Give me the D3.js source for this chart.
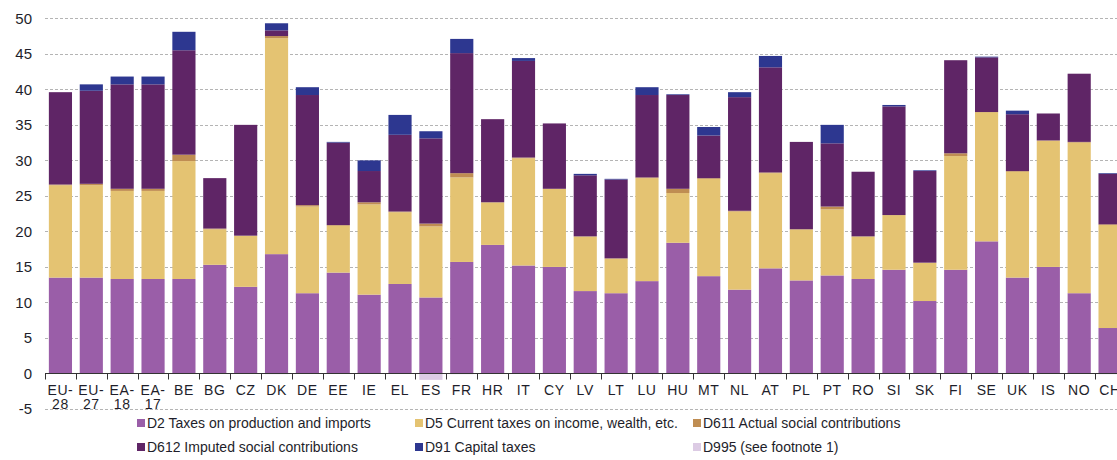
<!DOCTYPE html>
<html>
<head>
<meta charset="utf-8">
<script src="https://cdn.jsdelivr.net/npm/d3@7"></script>
<style>
  body { margin: 0; background: #fff; }
  svg { display: block; font-family: "Liberation Sans", Arial, sans-serif; }
</style>
</head>
<body>
<svg id="chart" width="1117" height="460"></svg>
<script>
/* Data */
/* **** */
var countries = ['EU-28', 'EU-27', 'EA-18', 'EA-17', 'BE', 'BG', 'CZ', 'DK', 'DE', 'EE', 'IE', 'EL', 'ES', 'FR',
    'HR', 'IT', 'CY', 'LV', 'LT', 'LU', 'HU', 'MT', 'NL', 'AT', 'PL', 'PT', 'RO', 'SI', 'SK', 'FI', 'SE', 'UK',
    'IS', 'NO', 'CH'];

var d2   = [13.5, 13.5, 13.3, 13.3, 13.3, 15.3, 12.2, 16.8, 11.3, 14.2, 11.1, 12.6, 10.7, 15.7,
            18.1, 15.2, 15.0, 11.6, 11.3, 13.0, 18.4, 13.7, 11.8, 14.8, 13.1, 13.8, 13.3, 14.6, 10.2, 14.6, 18.6, 13.5,
            15.0, 11.3, 6.4];
var d5   = [13.0, 13.0, 12.4, 12.4, 16.6, 5.0, 7.2, 30.4, 12.2, 6.6, 12.7, 10.1, 10.0, 11.9,
            6.0, 15.1, 11.0, 7.7, 4.9, 14.5, 7.0, 13.7, 11.0, 13.4, 7.2, 9.3, 6.0, 7.7, 5.4, 16.0, 18.2, 14.9,
            17.8, 21.2, 14.5];
var d611 = [0.1, 0.2, 0.3, 0.3, 0.9, 0.1, 0, 0.3, 0.2, 0.1, 0.3, 0.1, 0.4, 0.6,
            0, 0.1, 0, 0, 0, 0.1, 0.6, 0.1, 0.1, 0.1, 0, 0.4, 0, 0, 0, 0.4, 0, 0.1,
            0, 0.1, 0.1];
var d612 = [13.0, 13.1, 14.7, 14.7, 14.7, 7.1, 15.6, 0.8, 15.5, 11.6, 4.4, 10.8, 12.0, 16.9,
            11.7, 13.6, 9.2, 8.6, 11.1, 11.6, 13.2, 6.0, 16.0, 14.8, 12.3, 8.9, 9.1, 15.3, 12.9, 13.1, 7.7, 8.0,
            3.8, 9.6, 7.1];
var d91  = [0, 0.9, 1.1, 1.1, 2.6, 0, 0, 1.0, 1.1, 0.1, 1.5, 2.8, 1.0, 2.0,
            0, 0.4, 0, 0.2, 0.1, 1.1, 0.1, 1.2, 0.7, 1.6, 0, 2.6, 0, 0.2, 0.1, 0, 0.1, 0.5,
            0, 0, 0.1];
var d995 = [0, 0, 0, 0, 0, 0, 0, -0.1, 0, 0, 0, 0, -0.9, -0.1,
            0, 0, 0, 0, 0, 0, 0, 0, 0, -0.1, -0.1, 0, 0, 0, 0, 0, 0, 0,
            0, 0, -0.1];

var seriesNames = ['D2 Taxes on production and imports', 'D5 Current taxes on income, wealth, etc.',
    'D611 Actual social contributions', 'D612 Imputed social contributions', 'D91 Capital taxes',
    'D995 (see footnote 1)'];
var seriesKeys = ['d2', 'd5', 'd611', 'd612', 'd91', 'd995'];
var seriesColors = ['#9a5ea8', '#e4c372', '#bf8d52', '#5f2566', '#2d3790', '#dccbe4'];
var yTicks = [-5, 0, 5, 10, 15, 20, 25, 30, 35, 40, 45, 50];

/* Build rows */
var rows = countries.map(function (c, i) {
    return { country: c, d2: d2[i], d5: d5[i], d611: d611[i], d612: d612[i], d91: d91[i], d995: d995[i] };
});

/* Scales */
/* ****** */
var svg = d3.select('#chart');
var x = d3.scaleBand()
    .domain(countries)
    .range([45, 1125.5])
    .paddingInner(0.25)
    .paddingOuter(0.125);
var y = d3.scaleLinear()
    .domain([-5, 50])
    .range([409, 18.3]);

var textColor = '#1e1e2a';

// Grid lines
svg.append('g')
    .attr('class', 'grid')
    .selectAll('line')
    .data(yTicks.filter(function (t) { return t !== 0; }))
    .enter()
    .append('line')
    .attr('x1', 45)
    .attr('x2', 1117)
    .attr('y1', function (d) { return Math.round(y(d)) + 0.5; })
    .attr('y2', function (d) { return Math.round(y(d)) + 0.5; })
    .attr('stroke', '#b4b4b4')
    .attr('stroke-dasharray', '3,2');

// Y axis labels (plain hyphen for negatives, as in the source)
var yAxis = svg.append('g')
    .attr('transform', 'translate(32,0)')
    .call(d3.axisLeft(y)
        .tickValues(yTicks)
        .tickSize(0)
        .tickPadding(0)
        .tickFormat(function (d) { return String(d); }));
yAxis.select('.domain').remove();
yAxis.selectAll('text')
    .attr('font-size', 15)
    .attr('fill', textColor)
    .attr('font-family', '"Liberation Sans", Arial, sans-serif');

// Stacked bars
var stack = d3.stack()
    .keys(seriesKeys)
    .offset(d3.stackOffsetDiverging);
var layers = stack(rows);

svg.append('g')
    .attr('class', 'bars')
    .selectAll('g.layer')
    .data(layers)
    .enter()
    .append('g')
    .attr('class', 'layer')
    .attr('fill', function (d, i) { return seriesColors[i]; })
    .selectAll('rect')
    .data(function (d) { return d.filter(function (p) { return p[1] !== p[0]; }); })
    .enter()
    .append('rect')
    .attr('x', function (d) { return x(d.data.country); })
    .attr('width', x.bandwidth())
    .attr('y', function (d) { return y(Math.max(d[0], d[1])); })
    .attr('height', function (d) { return Math.abs(y(d[0]) - y(d[1])); });

// X axis line with ticks on band edges
var axisY = Math.round(y(0)) + 0.5;
var xAxis = svg.append('g').attr('class', 'x-axis');
xAxis.append('line')
    .attr('x1', 45)
    .attr('x2', 1117)
    .attr('y1', axisY)
    .attr('y2', axisY)
    .attr('stroke', '#333');
xAxis.selectAll('line.tick')
    .data(countries.concat(['end']))
    .enter()
    .append('line')
    .attr('class', 'tick')
    .attr('x1', function (d, i) { return Math.round(45 + i * x.step()) + 0.5; })
    .attr('x2', function (d, i) { return Math.round(45 + i * x.step()) + 0.5; })
    .attr('y1', axisY)
    .attr('y2', axisY + 6)
    .attr('stroke', '#333');

// Category labels, hyphenated ones on two lines
var labels = xAxis.selectAll('text')
    .data(countries)
    .enter()
    .append('text')
    .attr('text-anchor', 'middle')
    .attr('font-size', 14)
    .attr('fill', textColor)
    .attr('letter-spacing', 0.6);
labels.each(function (d) {
    var t = d3.select(this);
    var cx = x(d) + x.bandwidth() / 2;
    var parts = d.indexOf('-') >= 0 ? [d.slice(0, d.indexOf('-') + 1), d.slice(d.indexOf('-') + 1)] : [d];
    parts.forEach(function (p, k) {
        t.append('tspan')
            .attr('x', cx)
            .attr('y', 395 + k * 14)
            .text(p);
    });
});

// Legend
var legendCols = [137, 415, 693];
var legend = svg.append('g').attr('class', 'legend');
var items = legend.selectAll('g.item')
    .data(seriesNames)
    .enter()
    .append('g')
    .attr('class', 'item')
    .attr('transform', function (d, i) {
        return 'translate(' + legendCols[i % 3] + ',' + (i < 3 ? 428 : 452) + ')';
    });
items.append('rect')
    .attr('x', 0)
    .attr('y', -9)
    .attr('width', 8)
    .attr('height', 8)
    .attr('fill', function (d, i) { return seriesColors[i]; });
items.append('text')
    .attr('x', 10)
    .attr('y', 0)
    .attr('font-size', 14)
    .attr('fill', textColor)
    .text(function (d) { return d; });
</script>
</body>
</html>
